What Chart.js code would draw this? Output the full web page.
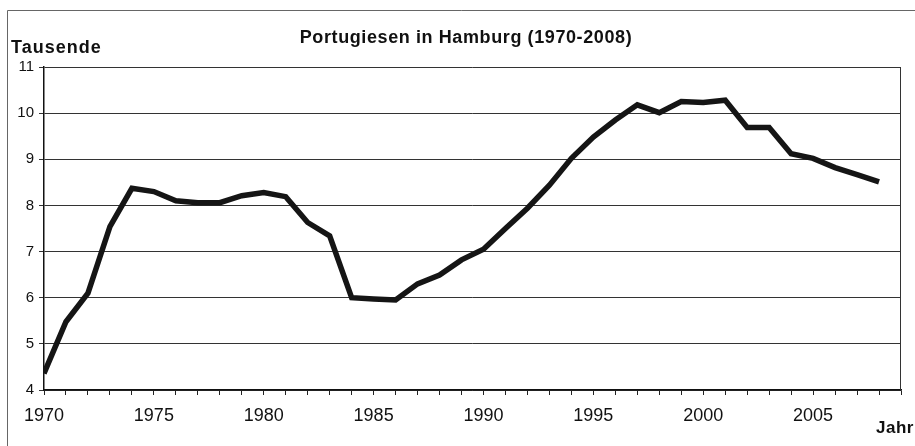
<!DOCTYPE html>
<html>
<head>
<meta charset="utf-8">
<script src="https://cdn.jsdelivr.net/npm/chart.js@4"></script>
<style>
html,body{margin:0;padding:0;background:#fff;}
#wrap{width:915px;height:446px;position:relative;}
</style>
</head>
<body>
<div id="wrap"><canvas id="c" width="915" height="446"></canvas></div>
<script>
const titleText = 'Portugiesen in Hamburg (1970-2008)';
const yAxisLabel = 'Tausende';
const xAxisLabel = 'Jahr';
const years = [1970,1971,1972,1973,1974,1975,1976,1977,1978,1979,
               1980,1981,1982,1983,1984,1985,1986,1987,1988,1989,
               1990,1991,1992,1993,1994,1995,1996,1997,1998,1999,
               2000,2001,2002,2003,2004,2005,2006,2007,2008];
const portugiesen = [4.36,5.48,6.10,7.54,8.37,8.30,8.10,8.06,8.06,8.21,
                     8.28,8.19,7.63,7.34,6.00,5.97,5.95,6.30,6.49,6.82,
                     7.05,7.50,7.94,8.44,9.02,9.48,9.85,10.18,10.01,10.25,
                     10.23,10.28,9.69,9.69,9.12,9.02,8.82,8.67,8.51];
const xTickLabels = [1970,1975,1980,1985,1990,1995,2000,2005];
const yTickLabels = [4,5,6,7,8,9,10,11];

const FONT = "'Liberation Sans', Arial, sans-serif";

const decor = {
  id: 'decor',
  beforeDraw(chart) {
    const ctx = chart.ctx;
    ctx.save();
    ctx.fillStyle = '#fff';
    ctx.fillRect(0, 0, chart.width, chart.height);
    ctx.strokeStyle = '#666';
    ctx.lineWidth = 1;
    ctx.beginPath();
    ctx.moveTo(7.5, 446);
    ctx.lineTo(7.5, 10.5);
    ctx.lineTo(915, 10.5);
    ctx.stroke();
    ctx.restore();
  },
  afterDraw(chart) {
    const ctx = chart.ctx;
    const a = chart.chartArea;
    ctx.save();
    ctx.strokeStyle = '#333';
    ctx.lineWidth = 1;
    ctx.beginPath();
    ctx.moveTo(Math.round(a.right) - 0.5, a.top);
    ctx.lineTo(Math.round(a.right) - 0.5, a.bottom);
    ctx.stroke();
    ctx.fillStyle = '#111';
    ctx.textBaseline = 'alphabetic';
    ctx.font = "bold 18px " + FONT;
    ctx.letterSpacing = '0.6px';
    ctx.textAlign = 'center';
    ctx.fillText(titleText, 466, 43);
    ctx.letterSpacing = '1px';
    ctx.textAlign = 'left';
    ctx.fillText(yAxisLabel, 11, 53);
    ctx.letterSpacing = '0.5px';
    ctx.font = "bold 17px " + FONT;
    ctx.fillText(xAxisLabel, 876, 433);
    ctx.restore();
  }
};

new Chart(document.getElementById('c'), {
  type: 'line',
  data: {
    datasets: [{
      data: years.map((y, i) => ({x: y, y: portugiesen[i]})),
      borderColor: '#151515',
      borderWidth: 5.5,
      pointRadius: 0,
      tension: 0,
      fill: false,
      borderJoinStyle: 'miter',
      borderCapStyle: 'butt'
    }]
  },
  options: {
    responsive: false,
    animation: false,
    devicePixelRatio: 1,
    layout: { padding: { left: 0, top: 67, right: 14, bottom: 0 } },
    plugins: { legend: { display: false }, title: { display: false }, tooltip: { enabled: false } },
    scales: {
      x: {
        type: 'linear',
        min: 1970,
        max: 2009,
        afterFit(s) { s.height = 56; },
        afterBuildTicks(s) {
          const t = [];
          for (let v = 1970; v <= 2009; v++) t.push({value: v});
          s.ticks = t;
        },
        ticks: {
          autoSkip: false,
          maxRotation: 0,
          padding: 10,
          color: '#111',
          font: { family: FONT, size: 18 },
          callback: (v) => xTickLabels.includes(v) ? String(v) : ''
        },
        grid: { drawOnChartArea: false, drawTicks: true, tickLength: 5, color: '#222' },
        border: { display: true, color: '#111', width: 1.5 }
      },
      y: {
        min: 4,
        max: 11,
        afterFit(s) { s.width = 44; },
        afterBuildTicks(s) { s.ticks = yTickLabels.map(v => ({value: v})); },
        ticks: {
          padding: 5,
          color: '#111',
          font: { family: FONT, size: 15 },
          callback: (v) => String(v)
        },
        grid: { color: '#333', lineWidth: 1, tickLength: 5 },
        border: { display: true, color: '#111', width: 1.5 }
      }
    }
  },
  plugins: [decor]
});
</script>
</body>
</html>
